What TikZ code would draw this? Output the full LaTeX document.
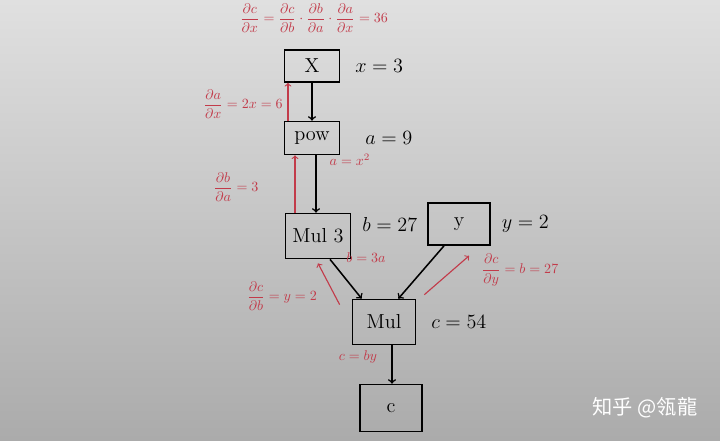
\documentclass[tikz,border=0pt]{standalone}
\usepackage{fontspec}
\newfontfamily\cjk{Noto Sans CJK SC}
\usetikzlibrary{positioning}
\definecolor{ink}{HTML}{C23B4A}
\definecolor{paperhi}{HTML}{E0E0E0}
\definecolor{paperlo}{HTML}{ABABAB}
\newcommand{\pd}[2]{\displaystyle\frac{\partial #1}{\partial #2}}
\tikzset{
  opbox/.style={draw,line width=1.2pt,inner sep=0pt,font=\Large},
  flow/.style={->,line width=1.1pt},
  grad/.style={->,ink,line width=.8pt},
  val/.style={font=\Large},
  note/.style={ink,font=\normalsize,inner sep=1pt},
}
\begin{document}
\begin{tikzpicture}[x=0.025cm,y=-0.025cm]
% Paper background
\shade[top color=paperhi,bottom color=paperlo] (0,0) rectangle (720,440);
\useasboundingbox (0,0) rectangle (720,440);
% Forward graph
\node[opbox,minimum width=13.75mm,minimum height=8mm] (X) at (312,66) {X};
\node[opbox,minimum width=13.75mm,minimum height=8.25mm] (pow) at (312,138) {pow};
\node[opbox,minimum width=16.25mm,minimum height=11.25mm] (mul3) at (318,236) {Mul 3};
\node[opbox,minimum width=15.5mm,minimum height=10.5mm] (y) at (459,224) {y};
\node[opbox,minimum width=15.75mm,minimum height=11.25mm] (mul) at (384,322) {Mul};
\node[opbox,minimum width=15.5mm,minimum height=11.75mm] (c) at (391,408) {c};
\draw[flow] (X) -- (pow);
\draw[flow] ([xshift=1mm]pow.south) -- ([xshift=1mm]pow.south |- mul3.north);
\draw[flow] ([xshift=3mm]mul3.south) -- ([xshift=2.5mm]mul.north west);
\draw[flow] ([xshift=-3.75mm]y.south) -- ([xshift=-4.5mm]mul.north east);
\draw[flow] ([xshift=2mm]mul.south) -- ([xshift=2mm]mul.south |- c.north);
% Values
\node[val,right=2.5mm of X] (xval) {$x=3$};
\node[val,right=5mm of pow] (aval) {$a=9$};
\node[val,right=1.5mm of mul3,yshift=3mm] (bval) {$b=27$};
\node[val,right=1.5mm of y] (yval) {$y=2$};
\node[val,right=2.5mm of mul] (cval) {$c=54$};
% Backward pass
\draw[grad] ([xshift=-6mm]pow.north) -- ([xshift=-6mm]pow.north |- X.south);
\draw[grad] ([xshift=-5.75mm]mul3.north) -- ([xshift=-5.75mm]mul3.north |- pow.south);
\draw[grad] ([xshift=-3mm,yshift=-1.5mm]mul.north west) -- ([yshift=-1mm]mul3.south);
\draw[grad] ([xshift=2mm,yshift=1mm]mul.north east) -- ([xshift=2.5mm,yshift=-2.5mm]y.south);
\node[note] (dcdx) at (314,18) {$\pd{c}{x}=\pd{c}{b}\cdot\pd{b}{a}\cdot\pd{a}{x}=36$};
\node[note] (dadx) at (243,104) {$\pd{a}{x}=2x=6$};
\node[note] (afun) at (350,160) {$a=x^2$};
\node[note] (dbda) at (236,187) {$\pd{b}{a}=3$};
\node[note] (bfun) at (366,258) {$b=3a$};
\node[note] (dcdb) at (282,296) {$\pd{c}{b}=y=2$};
\node[note] (dcdy) at (520,270) {$\pd{c}{y}=b=27$};
\node[note] (cfun) at (358,357) {$c=by$};
% Watermark
\node[white,font=\cjk\Large] (mark) at (645,408) {知乎 @瓴龍};
\end{tikzpicture}
\end{document}
